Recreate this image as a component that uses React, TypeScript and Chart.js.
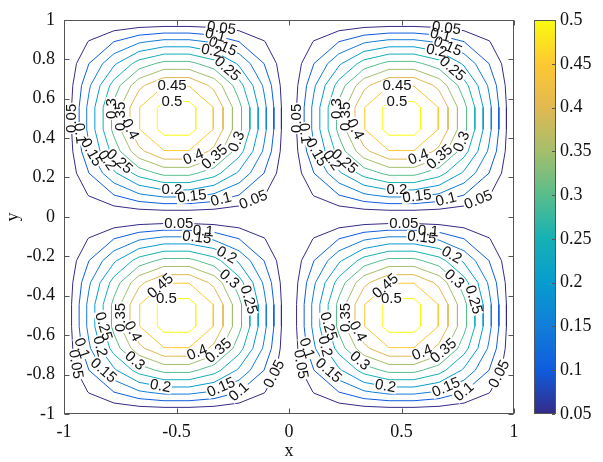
import { useEffect, useRef } from "react";
import { Chart, registerables } from "chart.js";

Chart.register(...registerables);

// Grid nodes on which the field is sampled (nine cells per unit)
const gridX = [-1, -0.8889, -0.7778, -0.6667, -0.5556, -0.4444, -0.3333, -0.2222, -0.1111, 0, 0.1111, 0.2222, 0.3333, 0.4444, 0.5556, 0.6667, 0.7778, 0.8889, 1];
const gridY = [-1, -0.8889, -0.7778, -0.6667, -0.5556, -0.4444, -0.3333, -0.2222, -0.1111, 0, 0.1111, 0.2222, 0.3333, 0.4444, 0.5556, 0.6667, 0.7778, 0.8889, 1];
// Relative amplitude of the field at the grid nodes along each axis
const profileX = [0, 0.313, 0.598, 0.85, 0.985, 0.985, 0.85, 0.598, 0.313, 0, 0.313, 0.598, 0.85, 0.985, 0.985, 0.85, 0.598, 0.313, 0];
const profileY = [0, 0.313, 0.598, 0.85, 0.985, 0.985, 0.85, 0.598, 0.313, 0, 0.313, 0.598, 0.85, 0.985, 0.985, 0.85, 0.598, 0.313, 0];
const peakValue = 0.535;

const contourLevels = [0.05, 0.1, 0.15, 0.2, 0.25, 0.3, 0.35, 0.4, 0.45, 0.5];
const xTickValues = [-1, -0.5, 0, 0.5, 1];
const yTickValues = [-1, -0.8, -0.6, -0.4, -0.2, 0, 0.2, 0.4, 0.6, 0.8, 1];
const colorbarTicks = [0.05, 0.1, 0.15, 0.2, 0.25, 0.3, 0.35, 0.4, 0.45, 0.5];
const colorMin = 0.05;
const colorMax = 0.5;

// parula, sampled at the contour levels
const levelColors = ["#352a87", "#0f5cdd", "#127dd8", "#079ccf", "#15b1b4", "#59bd8c", "#a5be6b", "#e1b952", "#fec832", "#f9fb0e"];

// Label spots: [level, dx, dy] relative to the centre of a lobe
const upperLobeLabels: [number, number, number][] = [
  [0.05, 0.2, 0.46], [0.1, 0.17, 0.41], [0.15, 0.2, 0.35], [0.2, 0.155, 0.34], [0.25, 0.225, 0.25],
  [0.45, -0.02, 0.15], [0.5, -0.02, 0.09], [0.3, -0.3, 0.05], [0.35, -0.26, 0.01], [0.4, -0.23, -0.07],
  [0.05, -0.47, 0], [0.1, -0.46, -0.08], [0.15, -0.39, -0.18], [0.2, -0.33, -0.23], [0.25, -0.27, -0.24],
  [0.4, 0.08, -0.21], [0.35, 0.18, -0.21], [0.3, 0.27, -0.12], [0.2, -0.02, -0.38], [0.15, 0.07, -0.41],
  [0.1, 0.2, -0.42], [0.05, 0.34, -0.41],
];
const lowerLobeLabels: [number, number, number][] = [
  [0.05, 0.01, 0.46], [0.1, 0.12, 0.44], [0.15, 0.09, 0.39], [0.2, 0.22, 0.3], [0.3, 0.235, 0.185],
  [0.25, 0.32, 0.08], [0.45, -0.06, 0.135], [0.5, -0.045, 0.065], [0.35, -0.25, -0.01], [0.4, -0.21, -0.09],
  [0.25, -0.34, -0.06], [0.2, -0.35, -0.16], [0.1, -0.46, -0.18], [0.05, -0.46, -0.25], [0.15, -0.34, -0.3],
  [0.3, -0.2, -0.25], [0.4, 0.1, -0.21], [0.35, 0.18, -0.17], [0.2, -0.075, -0.38], [0.15, 0.2, -0.37],
  [0.1, 0.28, -0.39], [0.05, 0.44, -0.3],
];
const lobes: { cx: number; cy: number; spots: [number, number, number][] }[] = [
  { cx: -0.5, cy: 0.5, spots: upperLobeLabels },
  { cx: 0.5, cy: 0.5, spots: upperLobeLabels },
  { cx: -0.5, cy: -0.5, spots: lowerLobeLabels },
  { cx: 0.5, cy: -0.5, spots: lowerLobeLabels },
];

type Pt = { x: number; y: number };

const fieldValues: number[][] = gridY.map((_, j) => gridX.map((_, i) => peakValue * profileX[i] * profileY[j]));

// Marching squares: returns the polylines of one level
function traceContours(level: number): Pt[][] {
  const pts = new Map<string, Pt>();
  const adj = new Map<string, string[]>();
  const v = (i: number, j: number) => fieldValues[j][i];
  const cross = (key: string, i1: number, j1: number, i2: number, j2: number): string | null => {
    const a = v(i1, j1);
    const b = v(i2, j2);
    if ((a >= level) === (b >= level)) return null;
    if (!pts.has(key)) {
      const t = (level - a) / (b - a);
      pts.set(key, {
        x: gridX[i1] + t * (gridX[i2] - gridX[i1]),
        y: gridY[j1] + t * (gridY[j2] - gridY[j1]),
      });
    }
    return key;
  };
  const link = (p: string, q: string) => {
    if (!adj.has(p)) adj.set(p, []);
    if (!adj.has(q)) adj.set(q, []);
    adj.get(p)!.push(q);
    adj.get(q)!.push(p);
  };
  for (let j = 0; j < gridY.length - 1; j++) {
    for (let i = 0; i < gridX.length - 1; i++) {
      const e = [
        cross(`h${i}_${j}`, i, j, i + 1, j),
        cross(`v${i + 1}_${j}`, i + 1, j, i + 1, j + 1),
        cross(`h${i}_${j + 1}`, i, j + 1, i + 1, j + 1),
        cross(`v${i}_${j}`, i, j, i, j + 1),
      ];
      const hits = e.filter((k): k is string => k !== null);
      if (hits.length === 2) link(hits[0], hits[1]);
      else if (hits.length === 4) {
        const centre = (v(i, j) + v(i + 1, j) + v(i + 1, j + 1) + v(i, j + 1)) / 4;
        if ((centre >= level) === (v(i, j) >= level)) {
          link(e[0]!, e[1]!);
          link(e[2]!, e[3]!);
        } else {
          link(e[0]!, e[3]!);
          link(e[1]!, e[2]!);
        }
      }
    }
  }
  const seen = new Set<string>();
  const lines: Pt[][] = [];
  const starts = [...adj.keys()].sort((a, b) => adj.get(a)!.length - adj.get(b)!.length);
  for (const start of starts) {
    if (seen.has(start)) continue;
    const path = [start];
    seen.add(start);
    let cur = start;
    for (;;) {
      const next = adj.get(cur)!.find((n) => !seen.has(n));
      if (!next) break;
      seen.add(next);
      path.push(next);
      cur = next;
    }
    if (path.length > 2 && adj.get(cur)!.includes(start)) path.push(start);
    lines.push(path.map((k) => pts.get(k)!));
  }
  return lines;
}

const contourLines: Pt[][][] = contourLevels.map((lv) => traceContours(lv));

const SERIF = '"Liberation Serif", "Times New Roman", serif';
const SANS = '"Liberation Sans", Arial, sans-serif';

const overlayPlugin = {
  id: "contourOverlay",
  afterDatasetsDraw(chart: any) {
    const { ctx, chartArea: a, scales } = chart;
    const xs = scales.x;
    const ys = scales.y;
    const px = (v: number) => xs.getPixelForValue(v);
    const py = (v: number) => ys.getPixelForValue(v);

    // contour labels, placed on the nearest point of their level's line
    type Placed = { x: number; y: number; ang: number; text: string };
    const placed: Placed[] = [];
    for (const lobe of lobes) {
      for (const [lv, dx, dy] of lobe.spots) {
        const k = contourLevels.indexOf(lv);
        const tx = px(lobe.cx + dx);
        const ty = py(lobe.cy + dy);
        let best: Placed | null = null;
        let bestD = Infinity;
        for (const line of contourLines[k]) {
          for (let s = 0; s < line.length - 1; s++) {
            const ax = px(line[s].x), ay = py(line[s].y);
            const bx = px(line[s + 1].x), by = py(line[s + 1].y);
            const vx = bx - ax, vy = by - ay;
            const len2 = vx * vx + vy * vy || 1;
            let t = ((tx - ax) * vx + (ty - ay) * vy) / len2;
            t = Math.max(0, Math.min(1, t));
            const qx = ax + t * vx, qy = ay + t * vy;
            const d = (qx - tx) ** 2 + (qy - ty) ** 2;
            if (d < bestD) {
              bestD = d;
              let ang = Math.atan2(vy, vx);
              if (ang > Math.PI / 2) ang -= Math.PI;
              if (ang < -Math.PI / 2) ang += Math.PI;
              best = { x: qx, y: qy, ang, text: String(lv) };
            }
          }
        }
        if (best) placed.push(best);
      }
    }
    ctx.save();
    ctx.beginPath();
    ctx.rect(a.left, a.top, a.right - a.left, a.bottom - a.top);
    ctx.clip();
    ctx.font = `15px ${SANS}`;
    ctx.fillStyle = "#ffffff";
    for (const p of placed) {
      const w = ctx.measureText(p.text).width;
      ctx.save();
      ctx.translate(p.x, p.y);
      ctx.rotate(p.ang);
      ctx.fillRect(-w / 2 - 1, -6, w + 2, 12);
      ctx.restore();
    }
    ctx.fillStyle = "#111111";
    ctx.textAlign = "center";
    ctx.textBaseline = "middle";
    for (const p of placed) {
      ctx.save();
      ctx.translate(p.x, p.y);
      ctx.rotate(p.ang);
      ctx.fillText(p.text, 0, 0);
      ctx.restore();
    }
    ctx.restore();

    // axes box with inward ticks
    const L = Math.round(a.left) + 0.5;
    const R = Math.round(a.right) - 0.5;
    const T = Math.round(a.top) + 0.5;
    const B = Math.round(a.bottom) - 0.5;
    ctx.save();
    ctx.strokeStyle = "#555555";
    ctx.lineWidth = 1;
    ctx.strokeRect(L, T, R - L, B - T);
    ctx.beginPath();
    const tick = 5;
    for (const v of xTickValues) {
      const x = Math.round(px(v)) + 0.5;
      ctx.moveTo(x, B);
      ctx.lineTo(x, B - tick);
      ctx.moveTo(x, T);
      ctx.lineTo(x, T + tick);
    }
    for (const v of yTickValues) {
      const y = Math.round(py(v)) + 0.5;
      ctx.moveTo(L, y);
      ctx.lineTo(L + tick, y);
      ctx.moveTo(R, y);
      ctx.lineTo(R - tick, y);
    }
    ctx.stroke();

    // colour bar
    const cbL = 534;
    const cbW = 22;
    const cbT = Math.round(a.top);
    const cbB = Math.round(a.bottom);
    const grad = ctx.createLinearGradient(0, cbB, 0, cbT);
    levelColors.forEach((c, i) => grad.addColorStop(i / (levelColors.length - 1), c));
    ctx.fillStyle = grad;
    ctx.fillRect(cbL, cbT, cbW, cbB - cbT);
    ctx.strokeStyle = "#555555";
    ctx.strokeRect(cbL + 0.5, cbT + 0.5, cbW - 1, cbB - cbT - 1);
    ctx.beginPath();
    ctx.font = `18px ${SERIF}`;
    ctx.fillStyle = "#111111";
    ctx.textAlign = "left";
    ctx.textBaseline = "middle";
    for (const v of colorbarTicks) {
      const y = cbB - ((v - colorMin) / (colorMax - colorMin)) * (cbB - cbT);
      const yy = Math.round(y) + 0.5;
      ctx.moveTo(cbL + cbW - 1, yy);
      ctx.lineTo(cbL + cbW - 4, yy);
      ctx.fillText(String(v), cbL + cbW + 4, y);
    }
    ctx.stroke();
    ctx.restore();
  },
};

export default function App() {
  const canvasRef = useRef<HTMLCanvasElement | null>(null);

  useEffect(() => {
    const canvas = canvasRef.current;
    if (!canvas) return;
    const datasets: any[] = [];
    contourLines.forEach((lines, k) => {
      for (const line of lines) {
        datasets.push({
          data: line,
          borderColor: levelColors[k],
          borderWidth: 1,
          pointRadius: 0,
          showLine: true,
          fill: false,
          tension: 0,
        });
      }
    });
    const chart = new Chart(canvas, {
      type: "scatter",
      data: { datasets },
      plugins: [overlayPlugin],
      options: {
        responsive: false,
        animation: false,
        devicePixelRatio: 1,
        layout: { padding: { left: 0, top: 18, right: 89, bottom: 0 } },
        plugins: { legend: { display: false }, tooltip: { enabled: false } },
        scales: {
          x: {
            type: "linear",
            min: -1,
            max: 1,
            grid: { display: false, drawTicks: false },
            border: { display: false },
            afterBuildTicks: (s: any) => {
              s.ticks = xTickValues.map((value) => ({ value }));
            },
            afterFit: (s: any) => {
              s.height = 48;
            },
            ticks: {
              padding: 7,
              color: "#111111",
              font: { family: SERIF, size: 18 },
              callback: (v: any) => String(v),
            },
            title: {
              display: true,
              text: "x",
              color: "#111111",
              padding: 0,
              font: { family: SERIF, size: 18 },
            },
          },
          y: {
            type: "linear",
            min: -1,
            max: 1,
            grid: { display: false, drawTicks: false },
            border: { display: false },
            afterBuildTicks: (s: any) => {
              s.ticks = yTickValues.map((value) => ({ value }));
            },
            afterFit: (s: any) => {
              s.width = 64;
            },
            ticks: {
              padding: 9,
              color: "#111111",
              font: { family: SERIF, size: 18 },
              callback: (v: any) => String(v),
            },
            title: {
              display: true,
              text: "y",
              color: "#111111",
              padding: { top: 2, bottom: 0 },
              font: { family: SERIF, size: 18 },
            },
          },
        },
      },
    });
    return () => chart.destroy();
  }, []);

  return (
    <div style={{ position: "absolute", left: 0, top: 0, width: 603, height: 462, background: "#ffffff" }}>
      <canvas ref={canvasRef} width={603} height={462} />
    </div>
  );
}
